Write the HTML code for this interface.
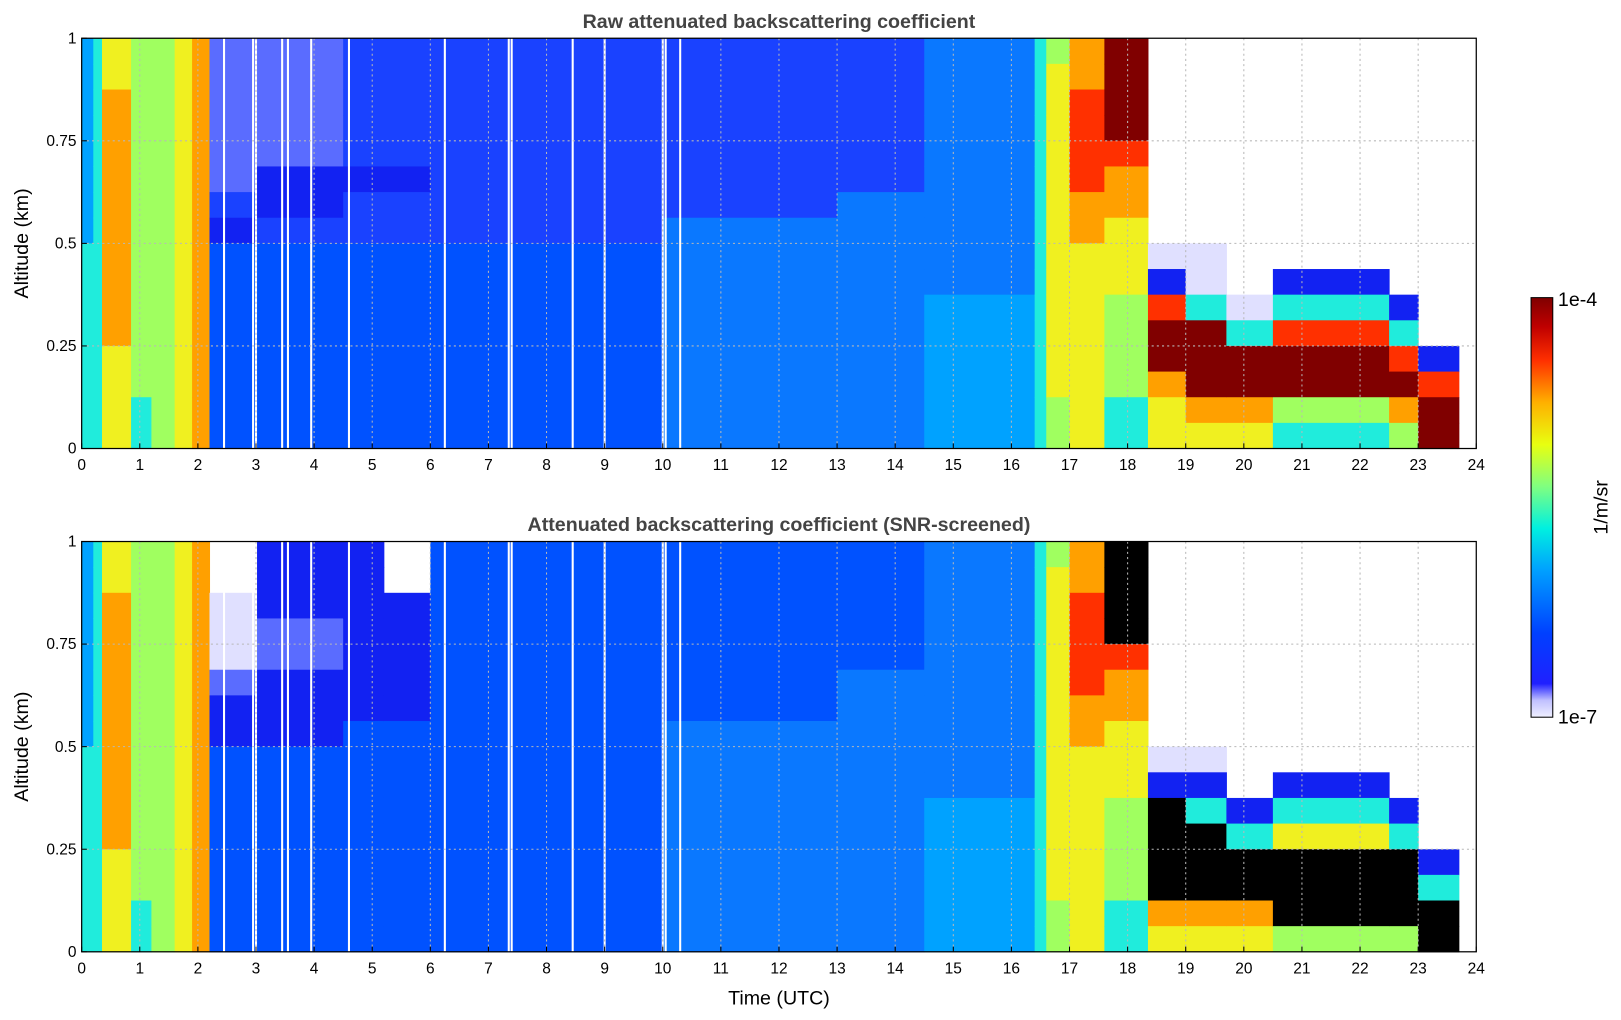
<!DOCTYPE html>
<html><head><meta charset="utf-8">
<style>
html,body{margin:0;padding:0;background:#fff;overflow:hidden;}
svg{display:block;font-family:"Liberation Sans","DejaVu Sans",sans-serif;}
</style></head>
<body>
<svg id="chart" width="1621" height="1020" viewBox="0 0 1568 987" preserveAspectRatio="none" xmlns="http://www.w3.org/2000/svg"></svg>
<script>
// ---- data ----
const segStart = [0,0.2,0.35,0.85,1.2,1.6,1.9,2.2,3.0,4.5,6,10,13,14.5,16.4,16.6,17.0,17.6,18.35,19,19.7,20.5,22.5,23,23.7];
const segEnd   = [0.2,0.35,0.85,1.2,1.6,1.9,2.2,3.0,4.5,6,10,13,14.5,16.4,16.6,17.0,17.6,18.35,19,19.7,20.5,22.5,23,23.7,24];
const rawCodes = ["4444444455555555","5555555555555555","7788888888887777","6666666666666655","6666666666666666","7777777777777777","8888888888888888","mmmmmmn122222222","mmmmm11n22222222","nnnnn1nn22222222","nnnnnnnn22222222","nnnnnnn333333333","nnnnnn3333333333","3333333333444444","5555555555555555","6777777777777766","8899998877777777","dddd988777666655","........w19dd877","........ww5ddd87","..........w5dd87",".........159dd65","..........159d86","............19dd","................"];
const bSegStart = [0,0.2,0.35,0.85,1.2,1.6,1.9,2.2,3.0,4.5,5.2,6,10,13,14.5,16.4,16.6,17.0,17.6,18.35,19,19.7,20.5,22.5,23,23.7];
const bSegEnd   = [0.2,0.35,0.85,1.2,1.6,1.9,2.2,3.0,4.5,5.2,6,10,13,14.5,16.4,16.6,17.0,17.6,18.35,19,19.7,20.5,22.5,23,23.7,24];
const snrCodes = ["4444444455555555","5555555555555555","7788888888887777","6666666666666655","6666666666666666","7777777777777777","8888888888888888","..wwwm1122222222","111mm11122222222","1111111222222222","..11111222222222","2222222222222222","2222222333333333","2222233333333333","3333333333444444","5555555555555555","6777777777777766","8899998877777777","kkkk988777666655","........w1kkkk87","........w15kkk87","..........15kk87",".........157kkk6","..........15kkk6","............15kk","................"];
const gapTimes = [2.45,2.95,3.0,3.45,3.55,3.95,4.6,6.25,7.35,7.4,8.45,9.0,10.0,10.05,10.3];
const xTicks = [0,1,2,3,4,5,6,7,8,9,10,11,12,13,14,15,16,17,18,19,20,21,22,23,24];
const yTicks = [0,0.25,0.5,0.75,1];
const yTickLabels = ["0","0.25","0.5","0.75","1"];

const palette = {'.':'#ffffff','w':'#e0e0ff','m':'#5a6cff','1':'#1222f2','n':'#1a42ff','2':'#0052ff','3':'#0a78ff','4':'#00a2ff','5':'#20ecdc','6':'#a0ff60','7':'#f0f020','8':'#ffa000','9':'#ff3000','d':'#800000','k':'#000000'};

const NS = "http://www.w3.org/2000/svg";
const svg = document.getElementById('chart');
function mk(tag, attrs, parent){ const e=document.createElementNS(NS,tag); for(const k in attrs) e.setAttribute(k,attrs[k]); (parent||svg).appendChild(e); return e; }

const X0=79, X1=1428;
const xs = t => X0 + (t/24)*(X1-X0);

function panel(top, bottom, starts, ends, codes, title, name){
  const ys = v => bottom - v*(bottom-top);
  const g = mk('g',{});
  
  
  const nRows = 16, dz = 1/nRows;
  for(let s=0;s<starts.length;s++){
    const code = codes[s];
    for(let r=0;r<nRows;r++){
      const c = code[r];
      if(c==='.') continue;
      const zTop = 1 - r*dz, zBot = zTop - dz;
      const x = xs(starts[s]), w = xs(ends[s]) - x;
      const y = ys(zTop), h = ys(zBot) - y;
      const rc = mk('rect',{x:x,y:y,width:w+0.5,height:h+0.5,fill:palette[c]},g);
      
      
    }
  }
  for(const t of gapTimes){
    const l = mk('rect',{x:xs(t)-1,y:top,width:2,height:bottom-top,fill:'#ffffff'},g);
    
    
  }
  for(const t of xTicks){
    if(t===0||t===24) continue;
    const gl = mk('line',{x1:xs(t),x2:xs(t),y1:top,y2:bottom,stroke:'#b8b8b8','stroke-width':1,'stroke-dasharray':'2,3'},g);
    
    
  }
  for(const v of yTicks){
    if(v===0||v===1) continue;
    const gl = mk('line',{x1:X0,x2:X1,y1:ys(v),y2:ys(v),stroke:'#b8b8b8','stroke-width':1,'stroke-dasharray':'2,3'},g);
    
    
  }
  const fr = mk('rect',{x:X0,y:top,width:X1-X0,height:bottom-top,fill:'none',stroke:'#000','stroke-width':1.2},g);
  
  
  for(const t of xTicks){
    mk('line',{x1:xs(t),x2:xs(t),y1:bottom,y2:bottom-5,stroke:'#000'},g);
    const tl = mk('text',{x:xs(t),y:bottom+21,'font-size':15,'text-anchor':'middle',fill:'#000'},g);
    tl.textContent = String(t);
    
    
  }
  yTicks.forEach((v,i)=>{
    mk('line',{x1:X0,x2:X0+5,y1:ys(v),y2:ys(v),stroke:'#000'},g);
    const tl = mk('text',{x:X0-5,y:ys(v)+5,'font-size':15,'text-anchor':'end',fill:'#000'},g);
    tl.textContent = yTickLabels[i];
    
    
  });
  const tt = mk('text',{x:(X0+X1)/2,y:top-10,'font-size':19,'font-weight':'bold','text-anchor':'middle',fill:'#444'},g);
  tt.textContent = title;
  
  
  const ya = mk('text',{x:0,y:0,'font-size':19,'text-anchor':'middle',fill:'#000',transform:`translate(27,${(top+bottom)/2}) rotate(-90)`},g);
  ya.textContent = 'Altitude (km)';
  
  
}

panel(37, 434, segStart, segEnd, rawCodes, 'Raw attenuated backscattering coefficient', 'raw-backscatter-panel');
panel(524, 921, bSegStart, bSegEnd, snrCodes, 'Attenuated backscattering coefficient (SNR-screened)', 'snr-backscatter-panel');

const xt = mk('text',{x:(X0+X1)/2,y:972,'font-size':19,'text-anchor':'middle',fill:'#000'});
xt.textContent = 'Time (UTC)';



const defs = mk('defs',{});
const grad = mk('linearGradient',{id:'jet',x1:0,y1:1,x2:0,y2:0},defs);
[[0,'#f0f0ff'],[0.04,'#c0c0ff'],[0.08,'#2020ff'],[0.2,'#0040ff'],[0.35,'#00a0ff'],[0.45,'#00f0e0'],[0.55,'#80ff80'],[0.65,'#e8ff10'],[0.75,'#ffb000'],[0.85,'#ff3000'],[0.93,'#c00000'],[1,'#800000']].forEach(([o,c])=>mk('stop',{offset:o,'stop-color':c},grad));
const cb = mk('rect',{x:1481,y:288,width:21,height:406,fill:'url(#jet)',stroke:'#000','stroke-width':1});


const c1 = mk('text',{x:1507,y:296,'font-size':19,fill:'#000'}); c1.textContent='1e-4';


const c2 = mk('text',{x:1507,y:700,'font-size':19,fill:'#000'}); c2.textContent='1e-7';


const cu = mk('text',{x:0,y:0,'font-size':19,'text-anchor':'middle',fill:'#000',transform:'translate(1555,491) rotate(-90)'}); cu.textContent='1/m/sr';


</script>
</body></html>
